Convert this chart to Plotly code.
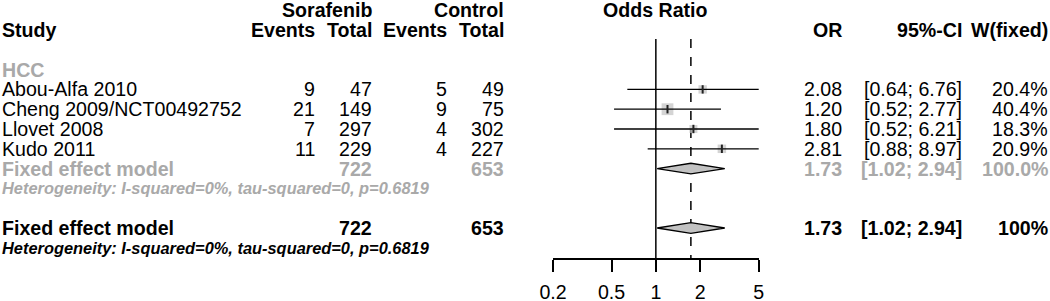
import numpy as np
import plotly.graph_objects as go

# ---------------- data ----------------
studies = ["Abou-Alfa 2010", "Cheng 2009/NCT00492752", "Llovet 2008", "Kudo 2011"]
sor_events = [9, 21, 7, 11]
sor_total = [47, 149, 297, 229]
ctl_events = [5, 9, 4, 4]
ctl_total = [49, 75, 302, 227]
odds_ratio = [2.08, 1.20, 1.80, 2.81]
ci_lower = [0.64, 0.52, 0.52, 0.88]
ci_upper = [6.76, 2.77, 6.21, 8.97]
weights = [20.4, 40.4, 18.3, 20.9]

pooled_or = 1.73
pooled_lo = 1.02
pooled_hi = 2.94
pooled_sor_total = 722
pooled_ctl_total = 653
subgroup_weight = "100.0%"
overall_weight = "100%"
heterogeneity = "Heterogeneity: I-squared=0%, tau-squared=0, p=0.6819"
subgroup_label = "HCC"

tick_vals = [0.2, 0.5, 1, 2, 5]
tick_text = ["0.2", "0.5", "1", "2", "5"]

# ---------------- style ----------------
W, H = 1050, 301
FONT = "Liberation Sans, Arial, sans-serif"
FS = 19.6
FS_SMALL = 16.4
GRAY_TXT = "#a9a9a9"
GRAY_FILL = "#c2c2c2"

# row layout (row index -> vertical position)
ROW_TOP = -3.515
ROW_BOT = 9.515
row_studies = [1, 2, 3, 4]
row_sub = 5
row_sub_het = 6
row_all = 8
row_all_het = 9
row_hdr1 = -3
row_hdr2 = -2
row_group = 0
diamond_half = 0.27

fig = go.Figure()

# squares
sizes = [11.8 * np.sqrt(w / max(weights)) for w in weights]
fig.add_trace(go.Scatter(
    x=odds_ratio, y=row_studies, mode="markers",
    marker=dict(symbol="square", size=sizes, color=GRAY_FILL, line=dict(width=0)),
    showlegend=False, hoverinfo="skip", cliponaxis=False))

# CI lines
for lo, hi, r in zip(ci_lower, ci_upper, row_studies):
    fig.add_trace(go.Scatter(
        x=[lo, hi], y=[r, r], mode="lines",
        line=dict(color="black", width=1.3),
        showlegend=False, hoverinfo="skip", cliponaxis=False))

# centre ticks
fig.add_trace(go.Scatter(
    x=odds_ratio, y=row_studies, mode="markers",
    marker=dict(symbol="line-ns", size=6, line=dict(color="#222222", width=2)),
    showlegend=False, hoverinfo="skip", cliponaxis=False))

# diamonds
for r in [row_sub, row_all]:
    fig.add_trace(go.Scatter(
        x=[pooled_lo, pooled_or, pooled_hi, pooled_or, pooled_lo],
        y=[r, r - diamond_half, r, r + diamond_half, r],
        mode="lines", fill="toself", fillcolor=GRAY_FILL,
        line=dict(color="black", width=1.3),
        showlegend=False, hoverinfo="skip", cliponaxis=False))

# reference lines
line_top = -1.545
fig.add_shape(type="line", xref="x", yref="y", x0=1, x1=1, y0=line_top, y1=ROW_BOT,
              line=dict(color="black", width=1.5), layer="below")
fig.add_shape(type="line", xref="x", yref="y", x0=pooled_or, x1=pooled_or, y0=line_top, y1=ROW_BOT,
              line=dict(color="black", width=1.5, dash="dash"), layer="below")

# ---------------- text ----------------
def txt(px, row, s, anchor="right", bold=False, italic=False, color="black", size=FS):
    if bold:
        s = "<b>" + s + "</b>"
    if italic:
        s = "<i>" + s + "</i>"
    fig.add_annotation(x=px / W, y=row, xref="paper", yref="y", text=s,
                       showarrow=False, xanchor=anchor, yanchor="middle",
                       font=dict(family=FONT, size=size, color=color), borderpad=0)

X_STUDY, X_SE, X_ST, X_CE, X_CT = 1, 316, 373, 448, 505
X_OR, X_CI, X_W = 843, 963, 1049
X_MID = (553 + 758.7) / 2

# headers
txt(X_STUDY, row_hdr2, "Study", anchor="left", bold=True)
txt(X_ST, row_hdr1, "Sorafenib", bold=True)
txt(X_CT, row_hdr1, "Control", bold=True)
txt(X_SE, row_hdr2, "Events", bold=True)
txt(X_ST, row_hdr2, "Total", bold=True)
txt(X_CE, row_hdr2, "Events", bold=True)
txt(X_CT, row_hdr2, "Total", bold=True)
txt(X_MID, row_hdr1, "Odds Ratio", anchor="center", bold=True)
txt(X_OR, row_hdr2, "OR", bold=True)
txt(X_CI, row_hdr2, "95%-CI", bold=True)
txt(X_W, row_hdr2, "W(fixed)", bold=True)

txt(X_STUDY, row_group, subgroup_label, anchor="left", bold=True, color=GRAY_TXT)

for i, r in enumerate(row_studies):
    txt(X_STUDY, r, studies[i], anchor="left")
    txt(X_SE, r, str(sor_events[i]))
    txt(X_ST, r, str(sor_total[i]))
    txt(X_CE, r, str(ctl_events[i]))
    txt(X_CT, r, str(ctl_total[i]))
    txt(X_OR, r, f"{odds_ratio[i]:.2f}")
    txt(X_CI, r, f"[{ci_lower[i]:.2f}; {ci_upper[i]:.2f}]")
    txt(X_W, r, f"{weights[i]:.1f}%")

# subgroup summary
txt(X_STUDY, row_sub, "Fixed effect model", anchor="left", bold=True, color=GRAY_TXT)
txt(X_ST, row_sub, str(pooled_sor_total), bold=True, color=GRAY_TXT)
txt(X_CT, row_sub, str(pooled_ctl_total), bold=True, color=GRAY_TXT)
txt(X_OR, row_sub, f"{pooled_or:.2f}", bold=True, color=GRAY_TXT)
txt(X_CI, row_sub, f"[{pooled_lo:.2f}; {pooled_hi:.2f}]", bold=True, color=GRAY_TXT)
txt(X_W, row_sub, subgroup_weight, bold=True, color=GRAY_TXT)
txt(X_STUDY, row_sub_het, heterogeneity, anchor="left", bold=True, italic=True,
    color=GRAY_TXT, size=FS_SMALL)

# overall summary
txt(X_STUDY, row_all, "Fixed effect model", anchor="left", bold=True)
txt(X_ST, row_all, str(pooled_sor_total), bold=True)
txt(X_CT, row_all, str(pooled_ctl_total), bold=True)
txt(X_OR, row_all, f"{pooled_or:.2f}", bold=True)
txt(X_CI, row_all, f"[{pooled_lo:.2f}; {pooled_hi:.2f}]", bold=True)
txt(X_W, row_all, overall_weight, bold=True)
txt(X_STUDY, row_all_het, heterogeneity, anchor="left", bold=True, italic=True, size=FS_SMALL)

# ---------------- axes / layout ----------------
fig.update_layout(
    width=W, height=H,
    margin=dict(l=0, r=0, t=0, b=0),
    paper_bgcolor="white", plot_bgcolor="rgba(0,0,0,0)",
    template="none",
    showlegend=False,
    xaxis=dict(
        type="log", range=[np.log10(0.2), np.log10(5)],
        domain=[553 / W, 758.7 / W],
        tickvals=tick_vals, ticktext=tick_text,
        ticks="outside", ticklen=12, tickwidth=1.5, tickcolor="black",
        showline=True, linecolor="black", linewidth=1.5,
        showgrid=False, zeroline=False, automargin=False,
        tickfont=dict(family=FONT, size=FS, color="black"),
        ticklabelstandoff=4,
        fixedrange=True,
    ),
    yaxis=dict(
        range=[ROW_BOT, ROW_TOP], domain=[(H - 258) / H, 1],
        visible=False, showgrid=False, zeroline=False, automargin=False,
        fixedrange=True,
    ),
)

fig.write_html("out.html", config={"displayModeBar": False},
               post_script="document.body.style.margin='0';document.body.style.overflow='hidden';")
